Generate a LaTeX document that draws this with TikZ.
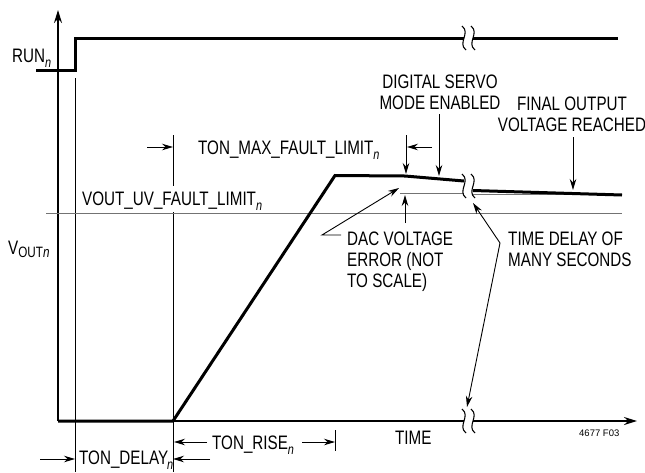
\documentclass[tikz,border=0pt]{standalone}
\usepackage{fontspec}
\setmainfont{Liberation Sans}[FakeStretch=0.78]
\newfontfamily\plainsans{Liberation Sans}
\usetikzlibrary{arrows.meta}
\newcommand{\subn}{\raisebox{-0.3em}{\fontsize{14}{14}\selectfont\itshape n}}
\newcommand{\brkmark}[2]{\draw[brk] (#1-2,#2-12) .. controls (#1+7,#2-5) and (#1-7,#2+5) .. (#1+2,#2+12);}
\begin{document}
\begin{tikzpicture}[x=1pt,y=-1pt,
  lbl/.style={font=\fontsize{19.5}{21}\selectfont, inner sep=0pt},
  heavy/.style={line width=3pt},
  axisline/.style={line width=1.8pt},
  thinline/.style={line width=0.9pt},
  level/.style={line width=1.5pt, draw=black!55},
  arr/.style={thinline, -{Stealth[length=11pt,width=6.5pt]}},
  brk/.style={line width=1.1pt}]
\useasboundingbox (0,0) rectangle (645,472);

% axes
\coordinate (O) at (58,421);
\coordinate (Ytop) at (58,10);
\coordinate (Xa) at (464,421);
\coordinate (Xb) at (473,421);
\coordinate (Xend) at (637,421);
\draw[axisline, -{Stealth[length=13pt,width=8pt]}] (O) -- (Ytop);
\draw[axisline] (O) -- (Xa);
\draw[axisline, -{Stealth[length=13pt,width=8pt]}] (Xb) -- (Xend);

% RUN waveform
\coordinate (r0) at (36,70);
\coordinate (r1) at (75,70);
\coordinate (r2) at (75,38);
\coordinate (r3) at (464,38);
\coordinate (r4) at (473,38);
\coordinate (r5) at (618,38);
\draw[heavy] (r0) -- (r1) -- (r2) -- (r3);
\draw[heavy] (r4) -- (r5);

% thin verticals
\coordinate (v1a) at (75,78);
\coordinate (v1b) at (75,472);
\coordinate (v2a) at (173,135);
\coordinate (v2b) at (173,186);
\coordinate (v2c) at (173,212);
\coordinate (v2d) at (173,472);
\draw[thinline] (v1a) -- (v1b);
\draw[thinline] (v2a) -- (v2b);
\draw[thinline] (v2c) -- (v2d);

% threshold and DAC level lines
\coordinate (t0) at (46,213.5);
\coordinate (t1) at (622,213.5);
\draw[level] (t0) -- (t1);
\coordinate (d0) at (400,193.5);
\coordinate (d1) at (464,193.5);
\coordinate (d2) at (473,194.5);
\coordinate (d3) at (622,194.5);
\draw[level] (d0) -- (d1);
\draw[level] (d2) -- (d3);

% VOUT waveform
\coordinate (w0) at (58,421);
\coordinate (w1) at (173,421);
\coordinate (w2) at (335,175.5);
\coordinate (w3) at (405,176);
\coordinate (w4) at (464,181);
\coordinate (w5) at (473,190.5);
\coordinate (w6) at (622,195);
\draw[heavy] (w0) -- (w1) -- (w2) -- (w3) -- (w4);
\draw[heavy] (w5) -- (w6);

% break marks
\brkmark{464}{38}
\brkmark{473}{38}
\brkmark{464}{186}
\brkmark{473}{186}
\brkmark{464}{421}
\brkmark{473}{421}

% labels
\node[lbl, anchor=base west] (run) at (12,62) {RUN\subn};
\node[lbl, anchor=base west] (vout) at (8,254) {V\raisebox{-0.2em}{\fontsize{15}{15}\selectfont OUT\itshape n}};
\node[lbl, anchor=base west] (uv) at (82,205) {VOUT\_UV\_FAULT\_LIMIT\subn};
\node[lbl, anchor=base west] (tmax) at (198,154) {TON\_MAX\_FAULT\_LIMIT\subn};
\node[lbl, anchor=base, align=center] (servo) at (440,109) {DIGITAL SERVO\\MODE ENABLED};
\node[lbl, anchor=base, align=center] (final) at (572,131) {FINAL OUTPUT\\VOLTAGE REACHED};
\node[lbl, anchor=base west, align=left] (dac) at (347,287) {DAC VOLTAGE\\ERROR (NOT\\TO SCALE)};
\node[lbl, anchor=base west, align=left] (delay) at (508,266) {TIME DELAY OF\\MANY SECONDS};
\node[lbl, anchor=base west] (time) at (395,444) {TIME};
\node[inner sep=0pt, anchor=base west, font=\plainsans\fontsize{9.5}{11}\selectfont] (fig) at (579,436) {4677 F03};
\node[lbl, anchor=base west] (rise) at (212,449) {TON\_RISE\subn};
\node[lbl, anchor=base west] (tdelay) at (79,464) {TON\_DELAY\kern-1pt\subn};

% TON_MAX_FAULT_LIMIT arrows
\coordinate (m0) at (147,147);
\coordinate (m1) at (173,147);
\coordinate (m2) at (432,147);
\coordinate (m3) at (407,147);
\coordinate (m4) at (406,135);
\coordinate (m5) at (406,174);
\draw[arr] (m0) -- (m1);
\draw[arr] (m2) -- (m3);
\draw[arr] (m4) -- (m5);

% servo arrow
\coordinate (s0) at (439,114);
\coordinate (s1) at (439,176);
\draw[arr] (s0) -- (s1);

% final output arrow
\coordinate (f0) at (573,137);
\coordinate (f1) at (573,190);
\draw[arr] (f0) -- (f1);

% DAC arrows
\coordinate (a0) at (341,235);
\coordinate (a1) at (322,235);
\coordinate (a2) at (399,188);
\draw[arr] (a0) -- (a1) -- (a2);
\coordinate (a3) at (405,223);
\coordinate (a4) at (405,195);
\draw[arr] (a3) -- (a4);

% time delay arrows
\coordinate (j) at (500,243);
\coordinate (j1) at (473,203);
\coordinate (j2) at (467,407);
\draw[arr] (j) -- (j1);
\draw[arr] (j) -- (j2);

% TON_RISE arrows
\coordinate (q0) at (207,442);
\coordinate (q1) at (174,442);
\coordinate (q2) at (302,442);
\coordinate (q3) at (335,442);
\coordinate (q4) at (335,430);
\coordinate (q5) at (335,451);
\draw[arr] (q0) -- (q1);
\draw[arr] (q2) -- (q3);
\draw[thinline] (q4) -- (q5);

% TON_DELAY arrows
\coordinate (p0) at (40,459);
\coordinate (p1) at (75,459);
\coordinate (p2) at (210,459);
\coordinate (p3) at (173,459);
\draw[arr] (p0) -- (p1);
\draw[arr] (p2) -- (p3);
\end{tikzpicture}
\end{document}
